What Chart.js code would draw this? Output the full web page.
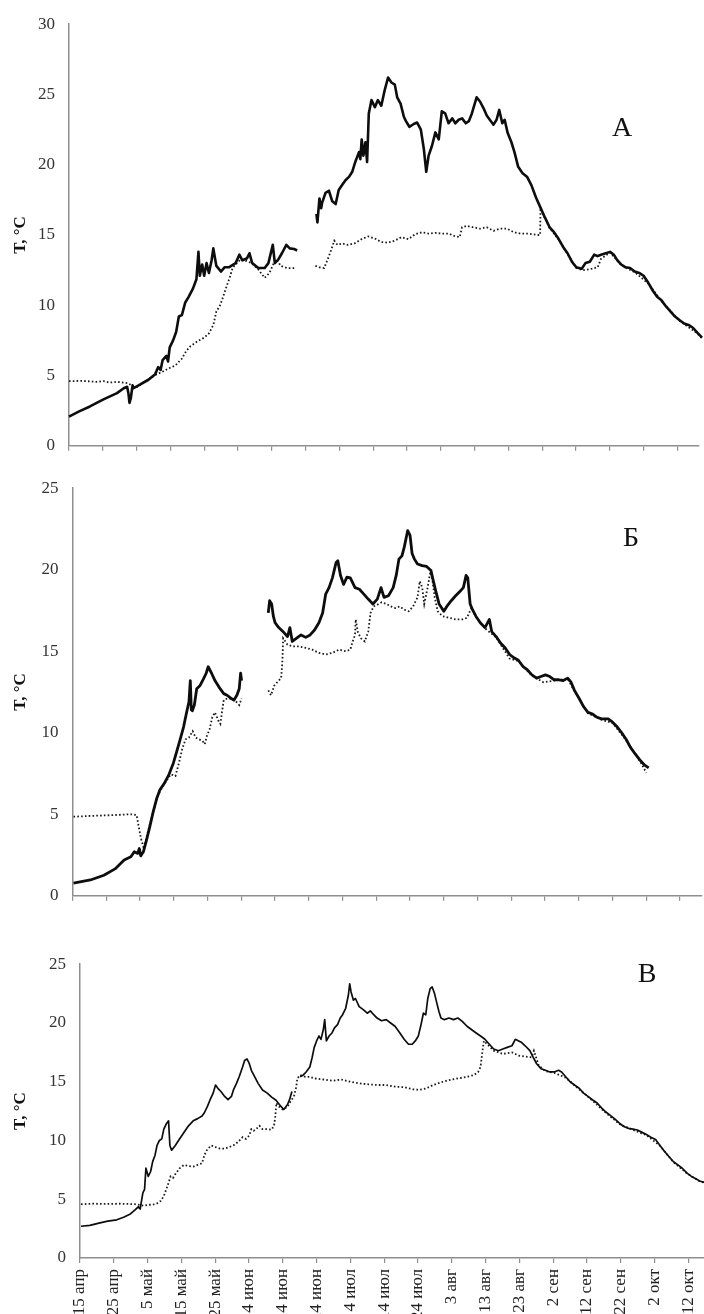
<!DOCTYPE html>
<html>
<head>
<meta charset="utf-8">
<script src="https://cdn.jsdelivr.net/npm/chart.js@4.4.1/dist/chart.umd.min.js"></script>
<style>
  html, body { margin: 0; padding: 0; background: #fff; width: 704px; height: 1314px; overflow: hidden; }
  canvas { position: absolute; left: 0; }
</style>
</head>
<body>
<canvas id="panelA" width="704" height="470" style="top:0px"></canvas>
<canvas id="panelB" width="704" height="456" style="top:464px"></canvas>
<canvas id="panelC" width="720" height="390" style="top:940px"></canvas>
<script>
// Day 0 = 15 April; a tick every 10 days
const tickLabels = ['15 апр','25 апр','5 май','15 май','25 май','4 июн','14 июн','24 июн','4 июл','14 июл','24 июл',
  '3 авг','13 авг','23 авг','2 сен','12 сен','22 сен','2 окт','12 окт'];

// ---- Panel А ----
const daysA_solid = [0,3,6.2,10.2,14.2,16.2,17.2,17.6,17.9,18.3,18.8,19.1,20.2,23.5,25.5,26.4,27.1,27.7,28.8,29.3,29.8,30.8,31.7,32.5,33.4,34.4,35.4,36.7,37.7,38.3,38.7,39.4,40,40.7,41.4,42.2,42.7,43.6,45,46,47.3,49.3,50.4,51.3,52.7,53.4,54.2,56,57.9,59,60.3,60.9,61.9,63,64.3,65.3,66.6,67.5,67.8,
  73.2,73.5,74.1,74.6,74.9,75.9,76.9,77.9,78.9,79.8,80.8,81.8,82.9,83.8,84.7,85.8,86.2,86.6,87.1,87.7,88.2,88.7,89.5,90.5,91.4,92.4,93.4,94.4,95.4,96.4,97.1,98.1,99.1,99.7,100.7,102,103,104.1,105,105.7,106.4,107.4,108.4,109.4,110.3,111.3,112.3,113.4,114.3,115.3,116.3,117.4,118.3,119.2,120.6,121.6,122.7,123.6,124.5,125.6,126.5,127.3,128.2,128.9,129.8,130.9,131.8,132.9,134.2,135.5,136.8,138.2,139.5,140.8,142.2,143.5,144.8,146.2,147.5,148.8,150.1,151.7,152.8,154.1,155.4,156.4,157.4,158.8,160.1,161.2,162.1,163.4,164.7,166,167.4,168.7,170,171.4,172.7,174,175.3,176.7,178,179.3,180.6,182,183.3,184.6,185.9,187.3];
const tempA_solid = [2.08,2.45,2.8,3.3,3.75,4.1,4.2,3.7,3.05,3.4,4.3,4.1,4.25,4.7,5.1,5.6,5.4,6.1,6.4,6.0,7.0,7.5,8.1,9.2,9.3,10.2,10.6,11.2,11.85,13.8,12.1,12.9,12.1,13.0,12.3,13.2,14.05,12.8,12.4,12.7,12.7,13.0,13.6,13.2,13.35,13.7,13.0,12.65,12.65,13.0,14.3,13.0,13.25,13.7,14.3,14.05,14.0,13.9,null,
  16.5,15.9,17.6,16.9,17.3,18.0,18.15,17.4,17.2,18.2,18.55,18.9,19.15,19.5,20.2,20.9,20.4,21.8,20.65,21.6,20.2,23.65,24.6,24.1,24.6,24.2,25.3,26.2,25.85,25.7,24.8,24.35,23.4,23.1,22.7,22.9,23.0,22.5,21.1,19.5,20.65,21.35,22.3,21.8,23.8,23.65,22.95,23.3,22.95,23.2,23.3,22.95,23.1,23.65,24.8,24.5,24.0,23.5,23.2,22.85,23.2,23.9,22.95,23.2,22.25,21.6,20.9,19.85,19.4,19.15,18.55,17.65,16.95,16.25,15.55,15.2,14.75,14.15,13.7,13.1,12.7,12.6,13.0,13.1,13.6,13.5,13.6,13.7,13.8,13.6,13.25,12.9,12.7,12.65,12.4,12.3,12.1,11.6,11.05,10.6,10.35,9.9,9.55,9.2,8.95,8.7,8.6,8.4,8.05,7.7];
const daysA_dotted = [0,4,8,10.2,12,14.2,16,17.5,18.8,20.2,22,24,26,27.5,29.4,31.4,33.4,34.7,36,38.1,40,41.4,42.7,43.6,44.7,45.6,46.7,47.6,48.4,49.3,50.7,52,54,56,57.9,59.3,60.6,61.6,62.6,64.6,67.2,67.6,
  72.9,74.1,75.5,76.5,77.6,78.5,79.4,80.8,82.5,84.5,86.5,88.5,90.5,92.4,94.4,96.4,98.4,100.4,102.4,104.4,106.4,108.4,110.3,112.3,114.3,115.6,116.3,117.6,119.6,121.6,123.6,125.6,127.6,129.6,131.6,133.6,135.5,137.5,138.8,139.4,139.5,140.8,142.2,144.8,147.5,150.1,152.1,154.8,156.4,157.4,160.1,163.4,167.4,171.4,175.3,180.6,185.9,187.3];
const tempA_dotted = [4.6,4.62,4.55,4.6,4.5,4.55,4.5,4.45,4.25,4.2,4.5,4.8,5.1,5.25,5.5,5.7,6.2,6.75,7.1,7.45,7.7,8.0,8.6,9.55,10.0,10.6,11.4,12.0,12.65,12.9,13.25,13.2,13.0,12.55,11.95,12.3,13.0,13.25,12.8,12.65,12.65,null,
  12.8,12.7,12.65,13.25,13.95,14.6,14.3,14.4,14.3,14.4,14.7,14.9,14.75,14.5,14.45,14.6,14.85,14.7,15.05,15.2,15.1,15.15,15.1,15.1,14.9,14.85,15.55,15.65,15.55,15.45,15.55,15.3,15.45,15.45,15.2,15.1,15.1,15.05,15.0,15.0,16.9,16.2,15.5,14.7,13.65,12.65,12.5,12.6,12.7,13.3,13.75,12.85,12.35,11.55,10.3,8.9,8.0,7.65];

// ---- Panel Б ----
const daysB_solid = [0.3,5.3,9.3,12.6,15.3,17.3,18.3,19.3,19.8,20.2,21,21.9,22.8,23.9,25,25.9,27.2,28.6,29.9,30.8,31.9,32.9,33.7,34.5,34.9,35.2,35.5,36.1,36.8,37.8,38.8,39.6,40.2,41.2,42.2,43.4,44.8,45.8,46.7,47.8,48.7,49.4,49.8,50.1,50.3,
  58,58.4,59,59.5,60,61.1,62.4,63.7,64.4,65.1,66.4,67.7,69.1,70.4,71.7,73,74.1,75,76,77,78.1,78.6,79.4,80.3,81.3,82.3,83.7,85,86.3,87.6,89,90.3,91.4,92.3,93.6,95,95.9,96.7,97.6,98.3,99.3,100,100.6,101.3,102.2,103.6,104.9,106.2,106.9,107.6,108.6,110,110.9,112.2,113.5,114.9,115.8,116.6,117.1,117.8,118.5,119.5,120.8,122.2,123.5,124.2,125.5,126.8,128.2,129.5,130.8,132.1,133.5,134.8,136.1,137.5,138.8,140.1,141.4,142.7,144.1,145.4,146.7,147.7,148.7,150.1,151.4,152.7,154.1,155.4,156.7,158.7,160,161.4,162.7,164,165.3,166.7,168,169.3,170.7];
const tempB_solid = [0.78,0.97,1.26,1.65,2.2,2.4,2.7,2.6,2.9,2.45,2.7,3.4,4.15,5.15,6.0,6.5,6.9,7.45,8.15,8.8,9.6,10.35,11.15,11.9,13.2,11.4,11.35,11.7,12.7,12.9,13.3,13.65,14.05,13.65,13.2,12.8,12.4,12.3,12.15,12.0,12.3,12.7,13.65,13.2,null,
  17.35,18.1,17.9,17.15,16.75,16.45,16.2,15.9,16.45,15.6,15.8,16.0,15.85,16.0,16.3,16.75,17.35,18.5,18.9,19.5,20.45,20.55,19.65,19.1,19.55,19.5,18.9,18.8,18.5,18.2,17.9,18.2,18.9,18.3,18.4,18.9,19.65,20.65,20.85,21.4,22.4,22.1,21.0,20.65,20.35,20.25,20.2,19.95,19.3,18.7,17.9,17.45,17.75,18.1,18.4,18.7,18.9,19.65,19.5,17.9,17.55,17.15,16.75,16.45,16.95,16.2,15.9,15.5,15.2,14.8,14.6,14.45,14.05,13.85,13.55,13.35,13.45,13.55,13.45,13.25,13.25,13.2,13.35,13.1,12.6,12.1,11.6,11.25,11.15,10.95,10.85,10.85,10.65,10.35,10.0,9.6,9.1,8.7,8.35,8.05,7.85];
const daysB_dotted = [0.3,5.3,12,17.3,19,19.7,20.3,21,21.6,22.6,23.9,25,26,27.2,28.6,29.2,30.5,31.6,32.5,33.5,34.5,35.6,36.5,37.5,38.5,39.2,39.8,40.6,41.4,42.2,43.2,43.8,44.2,44.8,45.8,47.1,48.5,49.4,50.1,50.3,
  58,58.8,59.8,61.1,61.8,62.2,62.4,63.7,65.1,67.1,69.1,71,73,75,77,79,81,82.3,83,83.7,83.9,84.5,85.4,86.6,87.6,88.3,89.2,90.3,91.6,93,94.3,95.6,96.9,98.3,99.6,100.9,102.2,102.9,103.6,104.2,105.2,106,106.5,107.3,108.2,109.6,111.6,113.5,115.5,116.9,117.5,118.2,119.5,122.2,125.5,129.5,132.1,136.1,139.5,142.7,146.7,148.7,152.7,156.7,160,164,168,170];
const tempB_dotted = [4.85,4.9,4.95,5.0,4.95,4.15,3.5,3.0,3.3,4.15,5.1,6.0,6.45,6.85,7.3,7.45,7.35,8.2,9.0,9.6,9.7,10.1,9.7,9.6,9.5,9.3,9.8,10.2,10.95,11.25,10.75,10.55,11.15,12.0,12.1,12.1,11.9,11.7,12.1,null,
  12.6,12.3,12.9,13.2,13.35,14.45,15.8,15.4,15.3,15.3,15.2,15.1,14.9,14.8,14.9,15.1,15.0,15.1,15.6,16.0,16.95,16.2,15.8,15.6,16.2,17.35,17.75,17.85,18.0,17.9,17.75,17.65,17.75,17.55,17.45,17.75,18.3,19.3,18.9,17.9,18.9,19.85,19.55,18.3,17.45,17.15,17.05,16.95,16.95,17.05,17.35,17.65,17.1,16.4,15.85,14.55,14.4,13.5,13.1,13.2,13.3,12.55,11.2,10.8,10.6,9.55,8.3,7.55];

// ---- Panel В ----
const daysC_solid = [0.3,2.9,5.6,8.2,10.9,12.9,14.9,16.2,17.3,17.8,18.2,18.6,19.1,19.5,20.2,20.9,21.5,22.2,22.8,23.5,24.2,24.8,25.5,26.2,26.6,27.1,28.2,29.5,30.8,32.1,33.5,34.8,36.1,36.8,37.7,38.5,39.4,40.1,40.8,41.7,42.8,43.8,44.8,45.4,46.3,47.1,48.1,48.7,49.4,50.1,50.7,51.7,52.7,54,55.4,56.7,58,59.4,60.3,61.4,62,62.7,62.9,
  65.1,66,66.9,68,68.7,69.3,70,70.7,71.3,72,72.4,72.9,73.7,74.6,75.3,76.2,77,77.7,78.6,79.4,79.8,80.2,80.9,81.5,82.6,83.9,85,85.9,86.9,87.9,89.2,90.6,91.9,93.2,94.6,95.9,97.2,98.3,99.2,100.1,100.9,101.6,102.3,102.9,103.6,104.2,104.9,105.6,106.2,106.8,107.8,109.2,110.5,111.8,113.1,114.5,115.8,117.1,118.5,119.8,121.1,122.4,123.8,125.1,126.4,127.8,128.8,129.8,130.7,131.7,133.1,134.1,135.1,136.4,137.7,139,140.3,141.6,142.5,143.7,145,146.3,147.7,149,150.3,151.6,153,154.3,155.6,156.9,158.3,159.6,160.9,162.3,163.6,164.9,166.3,167.6,168.9,170.3,171.6,172.9,174.3,175.6,176.9,178.2,179.6,180.9,182.2,183.5,184.9];
const tempC_solid = [2.7,2.78,2.97,3.14,3.25,3.47,3.75,4.08,4.36,4.17,4.86,5.55,5.83,7.64,6.94,7.36,8.2,8.75,9.58,10.0,10.14,10.97,11.4,11.67,9.58,9.17,9.58,10.14,10.7,11.25,11.67,11.86,12.08,12.36,12.9,13.47,14.03,14.72,14.44,14.17,13.75,13.47,13.75,14.3,14.86,15.42,16.25,16.8,16.94,16.53,15.97,15.42,14.86,14.3,14.03,13.69,13.42,12.92,12.64,13.06,13.47,14.17,null,
  15.42,15.56,15.83,16.25,17.08,17.92,18.47,18.89,18.6,19.44,20.28,18.47,18.89,19.17,19.58,19.86,20.42,20.7,21.25,22.36,23.33,22.64,21.94,22.08,21.39,21.11,20.83,21.03,20.7,20.42,20.19,20.28,20.0,19.72,19.17,18.61,18.19,18.19,18.47,18.89,19.86,20.83,20.7,22.08,22.92,23.06,22.5,21.67,20.97,20.42,20.28,20.42,20.28,20.42,20.14,19.72,19.44,19.17,18.89,18.61,18.19,17.78,17.64,17.78,17.92,18.06,18.61,18.47,18.33,18.06,17.64,17.08,16.53,16.11,15.97,15.83,15.83,15.97,15.83,15.42,15.0,14.72,14.44,14.03,13.75,13.47,13.19,12.78,12.42,12.14,11.81,11.47,11.19,11.03,10.97,10.89,10.69,10.5,10.28,10.08,9.58,9.08,8.61,8.19,7.92,7.64,7.22,6.94,6.75,6.53,6.44];
const daysC_dotted = [0.3,4,8,12,16.2,17.5,18.9,20.2,21.5,22.8,23.9,24.8,25.5,26.2,26.8,27.5,28.4,29.5,30.8,32.1,33.5,34.8,36.1,36.8,37.5,38.8,40.1,41.4,42.8,44.1,45.4,46.7,48.1,49.1,50.1,50.7,51.4,52.1,53.1,54,55.4,56.7,57.4,57.8,58.1,58.7,60,61.4,62,63.3,64,64.3,65.1,66.7,68,69.3,72,74.6,77.3,79.9,82.6,85.3,87.9,90.6,93.2,95.9,98.5,100.5,102.5,104.5,106.5,109.2,111.8,114.5,116.5,117.8,118.5,119.1,119.5,120.8,122.4,125.1,127.8,129.8,131.7,133.6,134.3,135.7,137.7,140.3,143.7,147.7,151.6,155.6,159.6,163.6,167.6,171.6,175.6,179.6,183.5,184.9];
const tempC_dotted = [4.58,4.62,4.6,4.62,4.58,4.53,4.44,4.53,4.53,4.64,4.86,5.28,5.83,6.39,6.94,6.81,7.22,7.64,7.92,7.83,7.78,7.92,8.06,8.75,9.17,9.58,9.44,9.31,9.31,9.44,9.58,9.86,10.28,10.14,10.42,10.97,10.83,10.97,11.25,10.97,10.97,10.92,11.25,12.08,13.19,12.92,12.64,12.86,13.19,13.75,14.58,15.28,15.56,15.42,15.42,15.28,15.19,15.08,15.19,15.0,14.86,14.78,14.72,14.72,14.58,14.53,14.36,14.31,14.44,14.72,14.92,15.14,15.28,15.42,15.56,15.83,16.25,17.64,18.47,18.1,17.64,17.36,17.5,17.22,17.14,17.08,17.64,16.39,15.9,15.75,15.35,14.35,13.4,12.35,11.4,10.9,10.45,9.55,8.15,7.2,6.5,6.4];

const FONT = '"Liberation Serif", "Times New Roman", serif';
const AXIS_GREY = '#8e8e8e';

function toPoints(days, temps) {
  return days.map((d, i) => ({ x: d, y: temps[i] }));
}

// Draws the panel letter (А, Б, В) inside the plot
const panelLetter = {
  id: 'panelLetter',
  afterDraw(chart, args, opts) {
    const ctx = chart.ctx;
    ctx.save();
    ctx.font = '28px ' + FONT;
    ctx.fillStyle = '#111';
    ctx.textAlign = 'center';
    ctx.textBaseline = 'middle';
    ctx.fillText(opts.text, opts.x, opts.y);
    ctx.restore();
  }
};

function makePanel(id, cfg) {
  new Chart(document.getElementById(id), {
    type: 'line',
    data: {
      datasets: [
        {
          data: toPoints(cfg.solidDays, cfg.solidTemps),
          borderColor: '#0d0d0d',
          borderWidth: cfg.solidWidth,
          pointRadius: 0,
          tension: 0,
          spanGaps: false,
          borderJoinStyle: 'round',
          clip: cfg.clip
        },
        {
          data: toPoints(cfg.dotDays, cfg.dotTemps),
          borderColor: '#1a1a1a',
          borderWidth: 1.8,
          borderDash: [1.6, 2.2],
          pointRadius: 0,
          tension: 0,
          spanGaps: false,
          clip: cfg.clip
        }
      ]
    },
    options: {
      responsive: false,
      animation: false,
      devicePixelRatio: 1,
      layout: { padding: cfg.padding },
      plugins: {
        legend: { display: false },
        tooltip: { enabled: false },
        panelLetter: cfg.letter
      },
      scales: {
        x: {
          type: 'linear',
          min: 0,
          max: 186.4,
          grid: { drawOnChartArea: false, drawTicks: true, tickLength: 5, color: AXIS_GREY, lineWidth: 1.2 },
          border: { color: AXIS_GREY, width: 1.5 },
          ticks: {
            display: cfg.showDates,
            stepSize: 10,
            includeBounds: false,
            autoSkip: false,
            maxRotation: 90,
            minRotation: 90,
            padding: 6,
            color: '#222',
            font: { family: FONT, size: 17 },
            callback: v => tickLabels[Math.round(v / 10)] || ''
          },
          afterFit: s => { s.height = cfg.xHeight; }
        },
        y: {
          min: 0,
          max: cfg.yMax,
          grid: { drawOnChartArea: false, drawTicks: false },
          border: { color: AXIS_GREY, width: 1.5 },
          ticks: { stepSize: 5, padding: 14, color: '#333', font: { family: FONT, size: 17 } },
          title: {
            display: true,
            text: 'T, °C',
            color: '#111',
            font: { family: FONT, size: 17, weight: 'bold' },
            padding: { top: 10, bottom: 0 }
          },
          afterFit: s => { s.width = cfg.yWidth; }
        }
      }
    },
    plugins: [panelLetter]
  });
}

makePanel('panelA', {
  solidDays: daysA_solid, solidTemps: tempA_solid,
  dotDays: daysA_dotted, dotTemps: tempA_dotted,
  solidWidth: 2.6, clip: false, yMax: 30,
  padding: { left: 0, top: 22, right: 5, bottom: 6 },
  yWidth: 69, xHeight: 10, showDates: false,
  letter: { text: 'А', x: 622, y: 129 }
});

makePanel('panelB', {
  solidDays: daysB_solid, solidTemps: tempB_solid,
  dotDays: daysB_dotted, dotTemps: tempB_dotted,
  solidWidth: 2.8, clip: false, yMax: 25,
  padding: { left: 0, top: 11, right: 2.3, bottom: 3.3 },
  yWidth: 72.5, xHeight: 10, showDates: false,
  letter: { text: 'Б', x: 631, y: 75 }
});

makePanel('panelC', {
  solidDays: daysC_solid, solidTemps: tempC_solid,
  dotDays: daysC_dotted, dotTemps: tempC_dotted,
  solidWidth: 1.7, clip: false, yMax: 25,
  padding: { left: 0, top: 18, right: 10, bottom: 0 },
  yWidth: 80, xHeight: 72, showDates: true,
  letter: { text: 'В', x: 647, y: 35 }
});
</script>
</body>
</html>
